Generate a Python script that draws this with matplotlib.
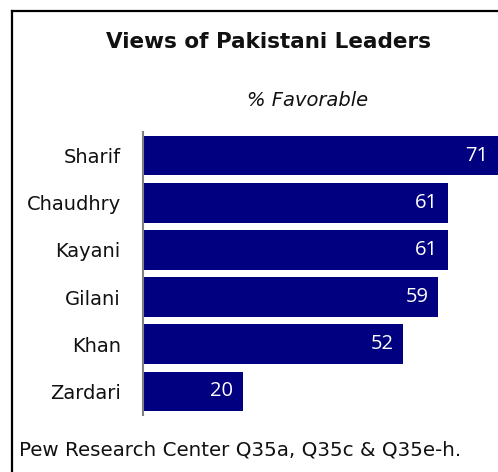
import matplotlib
matplotlib.use("Agg")
import matplotlib.pyplot as plt
from matplotlib.lines import Line2D

plt.rcParams['font.family'] = ['DejaVu Sans']

leaders = ["Sharif", "Chaudhry", "Kayani", "Gilani", "Khan", "Zardari"]
favorable = [71, 61, 61, 59, 52, 20]

title = "Views of Pakistani Leaders"
subtitle = "% Favorable"
footer = "Pew Research Center Q35a, Q35c & Q35e-h."

W, H = 498, 472
fig = plt.figure(figsize=(W / 100, H / 100), dpi=100)

def fx(px):
    return px / W

def fy(py):
    return 1 - py / H

ax_left, ax_right, ax_top, ax_bottom = 143, 498, 132, 415
ax = fig.add_axes([fx(ax_left), fy(ax_bottom), fx(ax_right - ax_left), (ax_bottom - ax_top) / H])

ypos = list(range(len(leaders)))
bars = ax.barh(ypos, favorable, height=0.84, color="#000080")
ax.set_xlim(0, 71)
ax.set_ylim(len(leaders) - 0.5, -0.5)
ax.set_yticks(ypos)
ax.set_yticklabels(leaders, fontsize=14, color="#111111")
ax.tick_params(axis="y", length=0, pad=16)
ax.set_xticks([])
for s in ["top", "right", "bottom"]:
    ax.spines[s].set_visible(False)
ax.spines["left"].set_color("#808080")
ax.spines["left"].set_linewidth(1.5)

for b, v in zip(bars, favorable):
    ax.annotate(str(v), xy=(b.get_width(), b.get_y() + b.get_height() / 2),
                xytext=(-7, 0), textcoords="offset points",
                ha="right", va="center", color="white", fontsize=14.5,
                family=["Open Sans", "DejaVu Sans"])

fig.text(fx(268), fy(42), title, ha="center", va="center", fontsize=15.5,
         fontweight="bold", color="#111111")
fig.text(fx(308), fy(100), subtitle, ha="center", va="center", fontsize=14,
         style="italic", color="#111111")
fig.text(fx(19), fy(450), footer, ha="left", va="center", fontsize=14.3, color="#111111")

fig.add_artist(Line2D([fx(12), fx(12)], [fy(11), 0], transform=fig.transFigure,
                      color="black", linewidth=1.6))
fig.add_artist(Line2D([fx(12), 1], [fy(11), fy(11)], transform=fig.transFigure,
                      color="black", linewidth=1.6))

fig.savefig("out.png", dpi=100, facecolor="white")
